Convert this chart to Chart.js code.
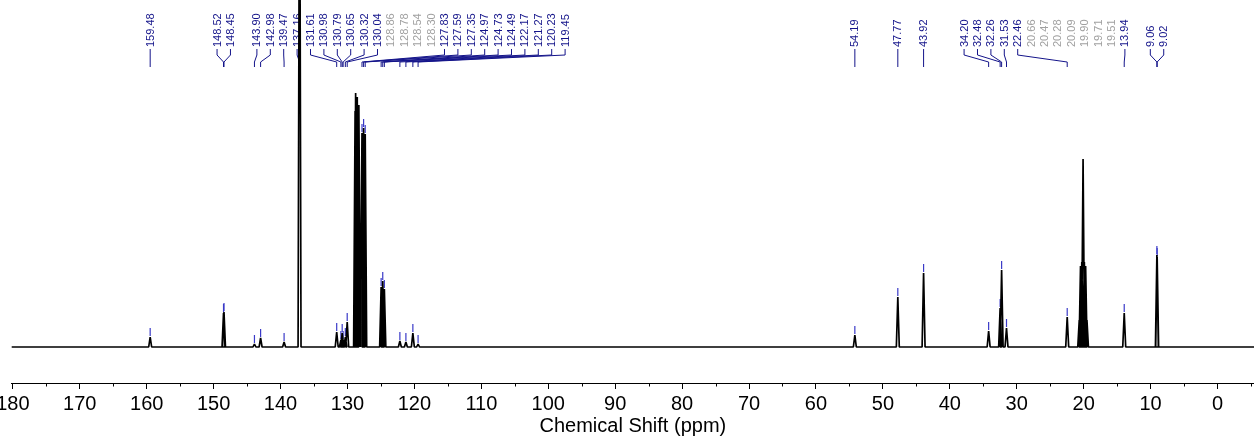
<!DOCTYPE html>
<html>
<head>
<meta charset="utf-8">
<title>13C NMR</title>
<script src="https://cdn.jsdelivr.net/npm/chart.js@4.4.1/dist/chart.umd.min.js"></script>
<style>
  html, body { margin: 0; padding: 0; background: #fff; overflow: hidden; }
  #wrap { position: relative; width: 1254px; height: 442px; }
</style>
</head>
<body>
<div id="wrap"><canvas id="spectrum"></canvas></div>
<script>
// ===== 13C spectrum: peak list + picked labels =====

// peak positions (ppm), left to right
const peakShift = [
  159.48, 148.52, 148.45, 143.90, 142.98, 139.47, 137.16,
  131.61, 130.98, 130.79, 130.65, 130.32, 130.04,
  128.86, 128.78, 128.54, 128.30, 127.83, 127.59, 127.35,
  124.97, 124.73, 124.49, 122.17, 121.27, 120.23, 119.45,
  54.19, 47.77, 43.92,
  34.20, 32.48, 32.26, 31.53, 22.46,
  20.66, 20.47, 20.28, 20.09, 19.90, 19.71, 19.51,
  13.94, 9.06, 9.02
];

// peak heights (arbitrary intensity, baseline = 0); 137.16 runs off scale
const peakHeight = [
  10, 34, 35, 3, 9, 5, 560,
  15, 7, 14, 7, 10, 25,
  236, 254, 250, 242, 214, 219, 213,
  60, 66, 58, 6, 5, 14, 3,
  12, 50, 74,
  16, 39, 77, 19, 30,
  27, 81, 85, 188, 85, 81, 27,
  34, 92, 90
];

// which label cluster each peak label belongs to
const labelCluster = [
  0, 1, 1, 2, 2, 2, 2,
  3, 3, 3, 3, 3, 3,
  3, 3, 3, 3, 3, 3, 3,
  3, 3, 3, 3, 3, 3, 3,
  4, 5, 6,
  7, 7, 7, 7, 7,
  7, 7, 7, 7, 7, 7, 7,
  8, 9, 9
];

// solvent lines, labelled in grey without connectors
const solventShift = [128.86, 128.78, 128.54, 128.30, 20.66, 20.47, 20.28, 20.09, 19.90, 19.71, 19.51];

// axis ticks
const majorTicks = [180, 170, 160, 150, 140, 130, 120, 110, 100, 90, 80, 70, 60, 50, 40, 30, 20, 10, 0];
const minorTicks = [175, 165, 155, 145, 135, 125, 115, 105, 95, 85, 75, 65, 55, 45, 35, 25, 15, 5, -5];

const PEAK_HW = 0.22;     // half width of a line at its foot, ppm
const LABEL_GAP = 13.4;   // px between neighbouring labels
const NAVY = '#14148a';
const GREY = '#a0a0a0';
const APEX = '#3a3ac8';

// spectrum trace: every peak as a narrow line rising from the baseline
function buildTrace() {
  const pts = [{ x: 182, y: 0 }];
  peakShift.forEach((s, i) => {
    pts.push({ x: s + PEAK_HW, y: 0 }, { x: s, y: peakHeight[i] }, { x: s - PEAK_HW, y: 0 });
  });
  pts.push({ x: -7, y: 0 });
  return pts;
}

// spread labels: each cluster centred over its peaks, pushed right if it hits the previous one
function layoutLabels(xScale) {
  const slots = new Array(peakShift.length);
  let prevEnd = -Infinity;
  let i = 0;
  while (i < peakShift.length) {
    let j = i;
    while (j + 1 < peakShift.length && labelCluster[j + 1] === labelCluster[i]) j++;
    const n = j - i + 1;
    const lo = xScale.getPixelForValue(peakShift[i]);
    const hi = xScale.getPixelForValue(peakShift[j]);
    let start = (lo + hi) / 2 - (n - 1) * LABEL_GAP / 2;
    if (start < prevEnd + LABEL_GAP) start = prevEnd + LABEL_GAP;
    for (let k = 0; k < n; k++) slots[i + k] = start + k * LABEL_GAP;
    prevEnd = slots[j];
    i = j + 1;
  }
  return slots;
}

const peakAnnotations = {
  id: 'peakAnnotations',
  beforeDatasetsDraw(chart) {
    const { ctx, scales: { x, y } } = chart;
    const slots = layoutLabels(x);
    ctx.save();
    ctx.font = '11px "Liberation Sans", Arial, sans-serif';
    ctx.textAlign = 'left';
    ctx.textBaseline = 'middle';
    ctx.lineWidth = 1;
    peakShift.forEach((s, i) => {
      const lx = slots[i];
      const px = x.getPixelForValue(s);
      const dim = solventShift.includes(s);

      ctx.save();
      ctx.translate(lx, 47);
      ctx.rotate(-Math.PI / 2);
      ctx.fillStyle = dim ? GREY : NAVY;
      ctx.fillText(s.toFixed(2), 0, 0.5);
      ctx.restore();
      if (dim) return;

      // connector from label down to its peak
      ctx.strokeStyle = NAVY;
      ctx.beginPath();
      ctx.moveTo(lx, 49);
      ctx.lineTo(lx, 55);
      ctx.lineTo(px, 62);
      ctx.lineTo(px, 67);
      ctx.stroke();

      // small tick sitting on the apex
      const top = y.getPixelForValue(peakHeight[i]);
      if (top > 70) {
        ctx.strokeStyle = APEX;
        ctx.lineWidth = 1.2;
        ctx.beginPath();
        ctx.moveTo(px, top - 9);
        ctx.lineTo(px, top - 1);
        ctx.stroke();
        ctx.lineWidth = 1;
      }
    });
    ctx.restore();
  }
};

const minorTickMarks = {
  id: 'minorTickMarks',
  afterDraw(chart) {
    const { ctx, chartArea, scales: { x } } = chart;
    ctx.save();
    ctx.strokeStyle = '#000';
    ctx.lineWidth = 1;
    minorTicks.forEach(v => {
      const px = Math.round(x.getPixelForValue(v)) + 0.5;
      ctx.beginPath();
      ctx.moveTo(px, chartArea.bottom);
      ctx.lineTo(px, chartArea.bottom + 3.5);
      ctx.stroke();
    });
    ctx.restore();
  }
};

Chart.defaults.font.family = '"Liberation Sans", Arial, sans-serif';
Chart.defaults.color = '#000';

new Chart(document.getElementById('spectrum'), {
  type: 'line',
  data: {
    datasets: [{
      data: buildTrace(),
      borderColor: '#000',
      borderWidth: 1.7,
      borderJoinStyle: 'bevel',
      pointRadius: 0,
      tension: 0,
      fill: false
    }]
  },
  options: {
    responsive: true,
    maintainAspectRatio: false,
    animation: false,
    devicePixelRatio: 1,
    layout: { padding: { left: 11.7, right: 0, top: 0, bottom: 0 } },
    plugins: {
      legend: { display: false },
      tooltip: { enabled: false }
    },
    scales: {
      x: {
        type: 'linear',
        reverse: true,
        min: -5.45,
        max: 180.17,
        afterBuildTicks: scale => { scale.ticks = majorTicks.map(v => ({ value: v })); },
        afterFit: scale => {
          scale.paddingLeft = 0;
          scale.paddingRight = 0;
          scale.height = 59;
        },
        border: { display: true, color: '#000', width: 1 },
        grid: { display: true, drawOnChartArea: false, drawTicks: true, tickLength: 6, color: '#000' },
        ticks: {
          autoSkip: false,
          maxRotation: 0,
          padding: 3,
          color: '#000',
          font: { size: 20 },
          callback: v => String(v)
        },
        title: {
          display: true,
          text: 'Chemical Shift (ppm)',
          color: '#000',
          font: { size: 20 },
          padding: { top: 0, bottom: 4 }
        }
      },
      y: {
        display: false,
        min: -36,
        max: 347
      }
    }
  },
  plugins: [peakAnnotations, minorTickMarks]
});
</script>
</body>
</html>
